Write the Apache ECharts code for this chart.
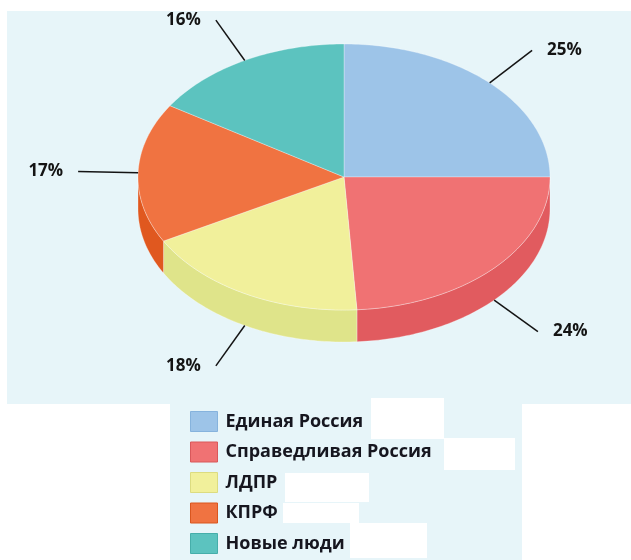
<!DOCTYPE html>
<html>
<head>
<meta charset="utf-8">
<script src="https://cdn.jsdelivr.net/npm/echarts@6/dist/echarts.min.js"></script>
<style>
  html, body { margin: 0; padding: 0; background: #fff; }
  #main { width: 631px; height: 560px; }
</style>
</head>
<body>
<div id="main"></div>
<script>
// партии и доли (%)
var parties = ['Единая Россия', 'Справедливая Россия', 'ЛДПР', 'КПРФ', 'Новые люди'];
var shares = [25, 24, 18, 17, 16];
// цвета: верх сектора, боковина, рамка значка легенды
var topColors = ['#9dc4e8', '#f07273', '#f1f09b', '#f07341', '#5cc3bf'];
var sideColors = ['#7fa9d4', '#e15b5f', '#dfe48a', '#e0581f', '#3fa9a5'];
var iconBorders = ['#86b3dd', '#d9585b', '#dcdc80', '#d9561f', '#46aeaa'];

var myChart = echarts.init(document.getElementById('main'));

// геометрия "3D" эллипса
var CX = 344, CY = 177, RX = 206, RY = 133, DEPTH = 32;
var total = shares.reduce(function (a, b) { return a + b; }, 0);

function pt(deg, dy) {
    var r = deg * Math.PI / 180;
    return [CX + RX * Math.sin(r), CY - RY * Math.cos(r) + (dy || 0)];
}

function arc(a0, a1, dy) {
    var pts = [];
    var n = Math.max(2, Math.ceil(Math.abs(a1 - a0)));
    for (var k = 0; k <= n; k++) {
        pts.push(pt(a0 + (a1 - a0) * k / n, dy));
    }
    return pts;
}

function makeRender(idx) {
    var before = 0;
    for (var j = 0; j < idx; j++) before += shares[j];
    return function (params, api) {
        var v = api.value(0);
        var a0 = before / total * 360;
        var a1 = (before + v) / total * 360;
        var children = [];

        // боковина (видна только передняя половина)
        var s0 = Math.max(a0, 90), s1 = Math.min(a1, 270);
        if (s1 > s0) {
            var side = arc(s0, s1, 0).concat(arc(s1, s0, DEPTH));
            children.push({
                type: 'polygon',
                shape: { points: side },
                style: { fill: sideColors[idx], stroke: 'rgba(255,255,255,0.3)', lineWidth: 1 }
            });
        }

        // верх сектора
        var top = [[CX, CY]].concat(arc(a0, a1, 0));
        children.push({
            type: 'polygon',
            shape: { points: top },
            style: { fill: topColors[idx], stroke: 'rgba(255,255,255,0.3)', lineWidth: 1 }
        });

        // подпись с линией
        var m = (a0 + a1) / 2;
        var mr = m * Math.PI / 180;
        var front = m > 90 && m < 270;
        var p0 = pt(m, front ? DEPTH : 0);
        var p1 = [p0[0] + Math.sin(mr) * 60, p0[1] - Math.cos(mr) * 46];
        var right = Math.sin(mr) > 0;
        children.push({
            type: 'polyline',
            shape: { points: [p0, p1] },
            style: { stroke: '#141414', lineWidth: 1.5, fill: null }
        });
        children.push({
            type: 'text',
            x: p1[0] + (right ? 15 : -15),
            y: p1[1],
            style: {
                text: v + '%',
                fill: '#141414',
                font: 'bold 17px "Open Sans"',
                align: right ? 'left' : 'right',
                verticalAlign: 'middle'
            }
        });
        return { type: 'group', children: children };
    };
}

var series = parties.map(function (name, i) {
    return {
        type: 'custom',
        name: name,
        coordinateSystem: 'none',
        itemStyle: { color: topColors[i] },
        data: [[shares[i]]],
        renderItem: makeRender(i)
    };
});

option = {
    backgroundColor: '#fff',
    animation: false,
    graphic: [
        { type: 'rect', shape: { x: 7, y: 11, width: 624, height: 393 }, style: { fill: '#e7f5f9' }, silent: true },
        { type: 'rect', shape: { x: 170, y: 404, width: 352, height: 156 }, style: { fill: '#e7f5f9' }, silent: true },
        // белые заплатки в легенде
        { type: 'rect', shape: { x: 371, y: 398, width: 73, height: 41 }, style: { fill: '#fff' }, silent: true },
        { type: 'rect', shape: { x: 444, y: 438, width: 71, height: 32 }, style: { fill: '#fff' }, silent: true },
        { type: 'rect', shape: { x: 285, y: 473, width: 84, height: 29 }, style: { fill: '#fff' }, silent: true },
        { type: 'rect', shape: { x: 283, y: 503, width: 76, height: 20 }, style: { fill: '#fff' }, silent: true },
        { type: 'rect', shape: { x: 350, y: 523, width: 77, height: 35 }, style: { fill: '#fff' }, silent: true }
    ],
    legend: {
        orient: 'vertical',
        left: 190,
        top: 411,
        padding: 0,
        itemWidth: 27,
        itemHeight: 20,
        itemGap: 9.5,
        icon: 'rect',
        selectedMode: false,
        data: parties.map(function (name, i) {
            return { name: name, itemStyle: { borderColor: iconBorders[i], borderWidth: 1 } };
        }),
        textStyle: {
            fontFamily: 'Open Sans',
            fontWeight: 'bold',
            fontSize: 18,
            lineHeight: 20,
            color: '#16161f',
            padding: [0, 0, 0, 3]
        }
    },
    series: series
};

myChart.setOption(option);
</script>
</body>
</html>
